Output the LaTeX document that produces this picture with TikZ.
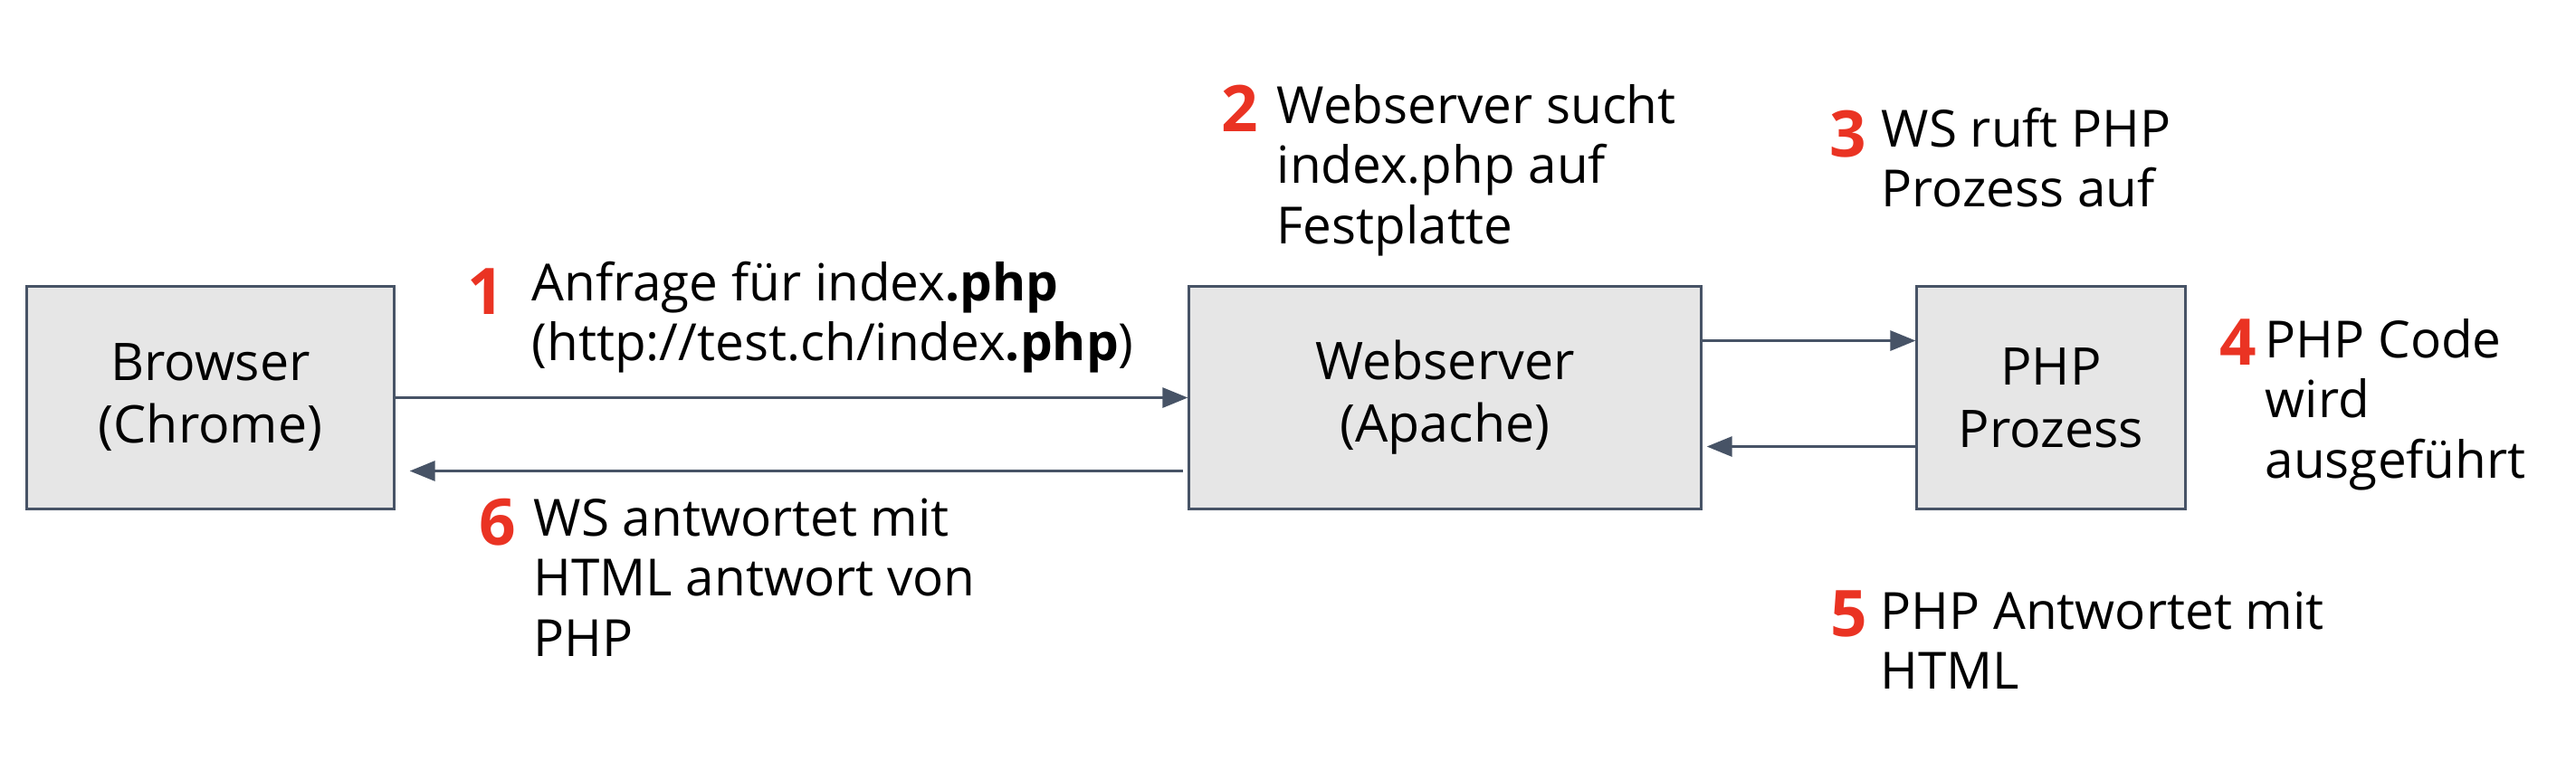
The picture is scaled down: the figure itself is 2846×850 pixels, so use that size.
\documentclass[tikz,border=0pt]{standalone}
\usepackage{fontspec}
\setmainfont{Open Sans}
\usetikzlibrary{arrows.meta,calc}
\definecolor{boxfill}{HTML}{E6E6E6}
\definecolor{slate}{HTML}{475366}
\definecolor{stepred}{HTML}{EA3323}
\begin{document}
\begin{tikzpicture}[x=0.01cm,y=-0.01cm,>={Triangle[length=0.28cm,width=0.22cm]},
	box/.style={draw=slate,fill=boxfill,line width=0.03cm,minimum height=2.45cm,inner sep=0pt,align=center,font=\fontsize{16.3}{19.6}\selectfont},
	num/.style={anchor=base west,inner sep=0pt,text=stepred,font=\fontsize{20.2}{24}\selectfont\bfseries},
	lbl/.style={anchor=base west,inner sep=0pt,align=left,font=\fontsize{16.1}{18.9}\selectfont},
	flow/.style={->,draw=slate,line width=0.03cm}]
		\useasboundingbox (0,0) rectangle (2846,850);

		\node (browser) [box,minimum width=4.05cm] at (232.5,439.5) {Browser\\(Chrome)};
		\node (webserver) [box,minimum width=5.65cm] at (1596.5,439.5) {Webserver\\(Apache)};
		\node (php) [box,minimum width=2.96cm] at (2266,439.5) {PHP\\Prozess};

		% Schritte (Textanker = letzte Grundlinie)
		\node (n1) [num] at (516,347) {1};
		\node (t1) [lbl] at (587,398.5) {Anfrage für index\textbf{.php}\\(http://test.ch/index\textbf{.php})};
		\node (n2) [num] at (1349,145) {2};
		\node (t2) [lbl] at (1410,269) {Webserver sucht\\index.php auf\\Festplatte};
		\node (n3) [num] at (2021,173) {3};
		\node (t3) [lbl] at (2078,228.5) {WS ruft PHP\\Prozess auf};
		\node (n4) [num] at (2452,403) {4};
		\node (t4) [lbl] at (2502,528) {PHP Code\\wird\\ausgeführt};
		\node (n5) [num] at (2022,703) {5};
		\node (t5) [lbl] at (2077,761.5) {PHP Antwortet mit\\HTML};
		\node (n6) [num] at (529,602) {6};
		\node (t6) [lbl] at (589,725) {WS antwortet mit\\HTML antwort von\\PHP};

		\draw [flow] (browser.east) -- (webserver.west);
		\draw [flow,shorten <=0.05cm,shorten >=0.16cm] ($(webserver.west)+(0,81)$) -- ($(browser.east)+(0,81)$);
		\draw [flow] ($(webserver.east)+(0,-63)$) -- ($(php.west)+(0,-63)$);
		\draw [flow,shorten >=0.05cm] ($(php.west)+(0,54)$) -- ($(webserver.east)+(0,54)$);
	\end{tikzpicture}
\end{document}
